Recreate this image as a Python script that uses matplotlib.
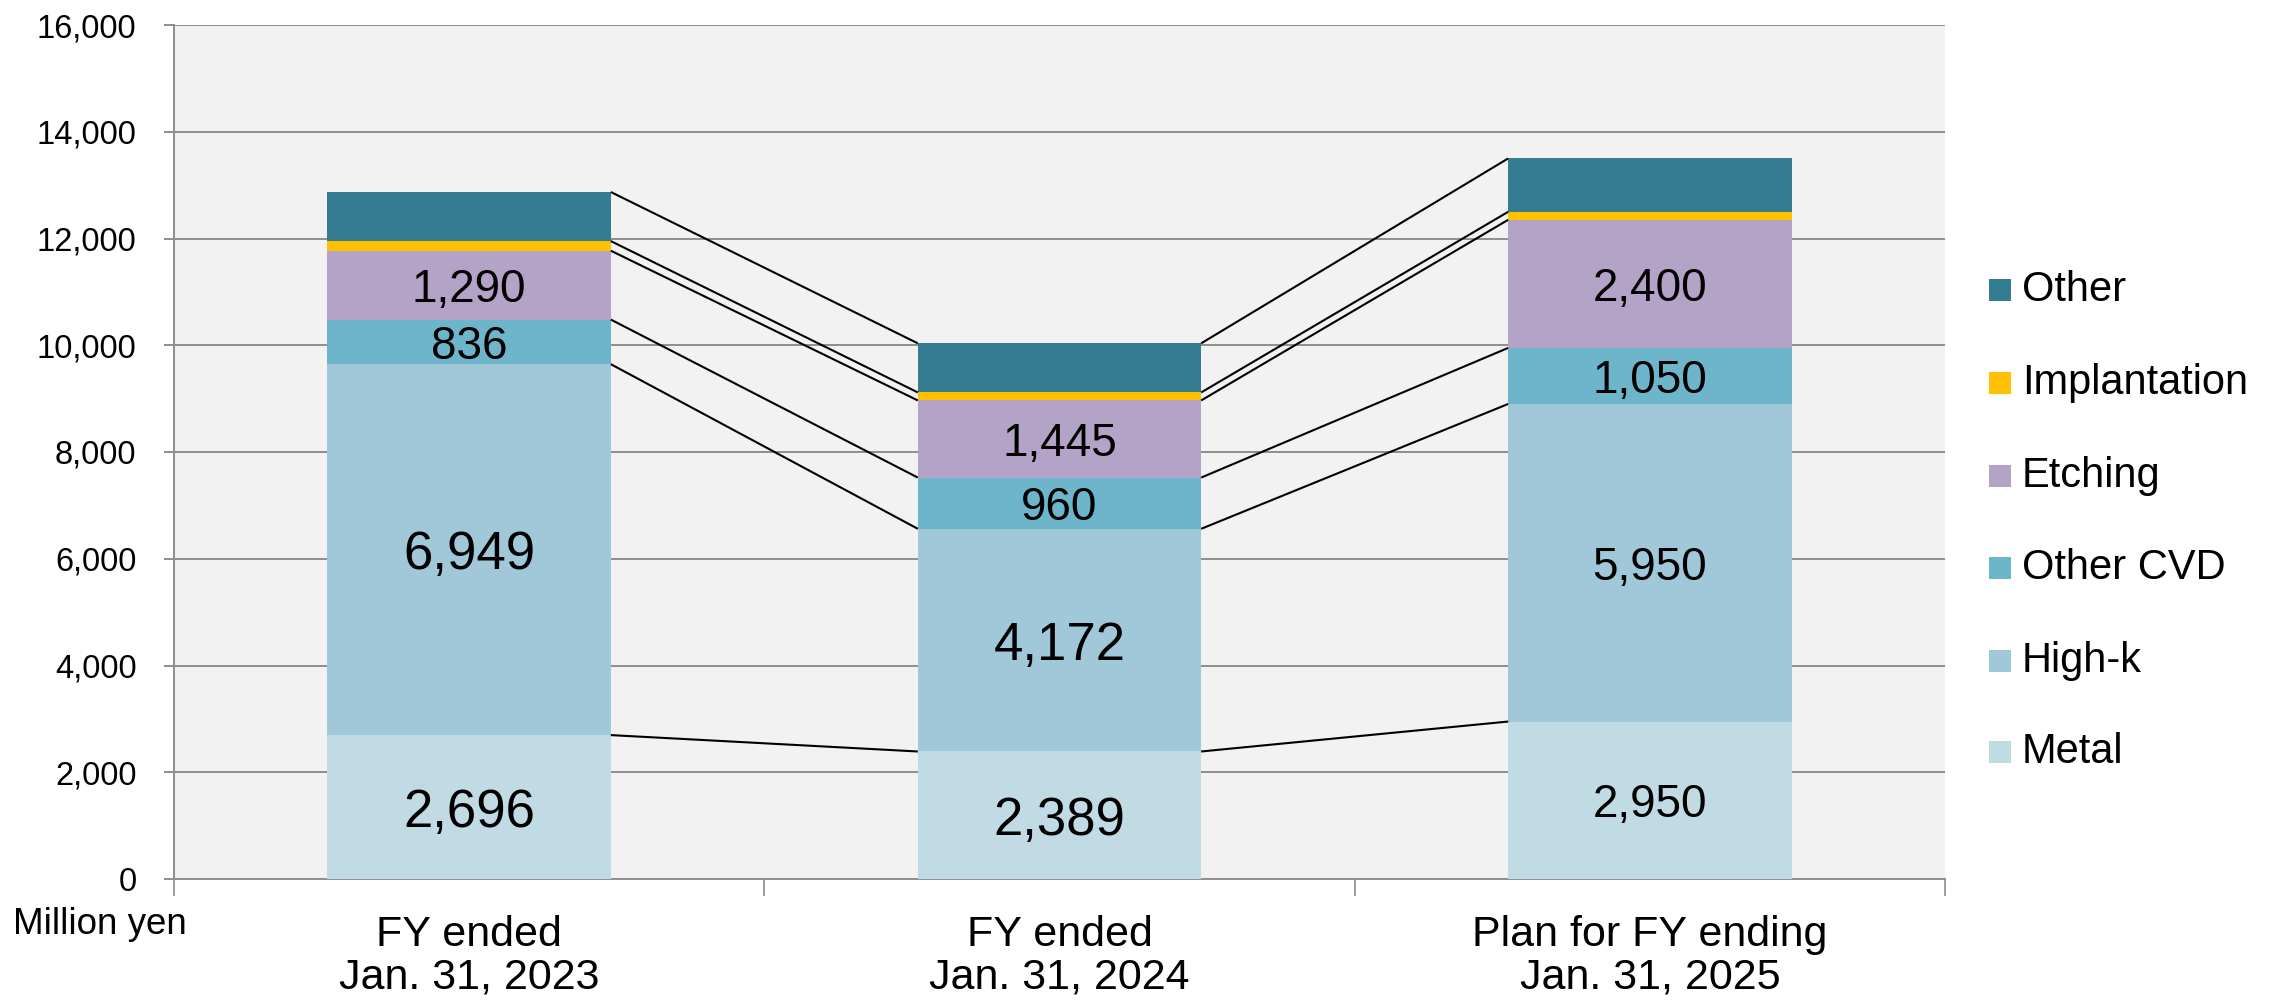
import matplotlib
matplotlib.use("Agg")
import matplotlib.pyplot as plt
from matplotlib.patches import Rectangle
import numpy as np

plt.rcParams['font.family'] = ['Liberation Sans', 'DejaVu Sans']

# ---- data (million yen) ----
categories = ["FY ended\nJan. 31, 2023", "FY ended\nJan. 31, 2024",
              "Plan for FY ending\nJan. 31, 2025"]
series_names = ["Metal", "High-k", "Other CVD", "Etching", "Implantation", "Other"]
metal = [2696, 2389, 2950]
high_k = [6949, 4172, 5950]
other_cvd = [836, 960, 1050]
etching = [1290, 1445, 2400]
implantation = [180, 150, 150]
other = [920, 920, 1000]
yticks = list(range(0, 16001, 2000))

series_values = [metal, high_k, other_cvd, etching, implantation, other]
series_colors = ["#C0DBE4", "#A0C8D9", "#6DB5CB", "#B2A3C7", "#FFC000", "#367C91"]
labeled = [True, True, True, True, False, False]
# label font size per series per bar
label_sizes = [[38, 38, 33], [38, 38, 33], [33, 33, 33], [33, 33, 33]]

W, H = 2277, 1000
fig = plt.figure(figsize=(W / 100, H / 100), dpi=100)
ax = fig.add_axes([174 / W, 1 - 879 / H, (1945 - 174) / W, (879 - 25) / H])
ax.set_facecolor("#F2F2F2")

x = np.arange(len(categories))
width = 0.48
bottom = np.zeros(len(categories))
tops = []
for vals, col, show, idx in zip(series_values, series_colors, labeled, range(6)):
    vals = np.array(vals, dtype=float)
    ax.bar(x, vals, width=width, bottom=bottom, color=col, edgecolor="none",
           zorder=3)
    if show:
        for i in range(len(x)):
            ax.text(x[i], bottom[i] + vals[i] / 2, f"{int(vals[i]):,}",
                    ha="center", va="center_baseline",
                    fontsize=label_sizes[idx][i], color="black", zorder=5)
    bottom = bottom + vals
    tops.append(bottom.copy())

# connector lines between the top of each segment of neighbouring bars
for top in tops:
    for i in range(len(x) - 1):
        ax.plot([x[i] + width / 2, x[i + 1] - width / 2], [top[i], top[i + 1]],
                color="black", lw=1.5, zorder=4, solid_capstyle="butt")

ax.set_xlim(-0.5, len(categories) - 0.5)
ax.set_ylim(0, 16000)
ax.set_yticks(yticks)
ax.set_yticklabels([f"{v:,}" for v in yticks])
ax.yaxis.grid(True, color="#8E8E8E", lw=1.4, zorder=1)
ax.set_axisbelow(True)

ax.set_xticks(x)
ax.set_xticklabels(categories, fontsize=31, linespacing=1.08)
ax.set_xticks(np.arange(-0.5, len(categories)), minor=True)
ax.tick_params(axis="x", which="major", length=0, pad=26)
ax.tick_params(axis="x", which="minor", length=12, width=1.2, color="#8E8E8E",
               direction="out")
ax.tick_params(axis="y", length=7, width=1.4, color="#8E8E8E", labelsize=23.5,
               pad=20)

for s in ["top", "right"]:
    ax.spines[s].set_visible(False)
for s in ["left", "bottom"]:
    ax.spines[s].set_color("#8E8E8E")
    ax.spines[s].set_linewidth(1.4)

fig.text(13 / W, 1 - 925 / H, "Million yen", fontsize=26.5, ha="left",
         va="center")

# legend, top entry first
legend_y = [290, 383, 476, 568, 661, 752]
for name, col, yy in zip(series_names[::-1], series_colors[::-1], legend_y):
    fig.add_artist(Rectangle((1989 / W, 1 - (yy + 11) / H), 22 / W, 22 / H,
                             transform=fig.transFigure, color=col, lw=0))
    fig.text(2022 / W, 1 - yy / H, name, fontsize=30, ha="left",
             va="center")

fig.savefig("out.png", dpi=100, facecolor="white")
